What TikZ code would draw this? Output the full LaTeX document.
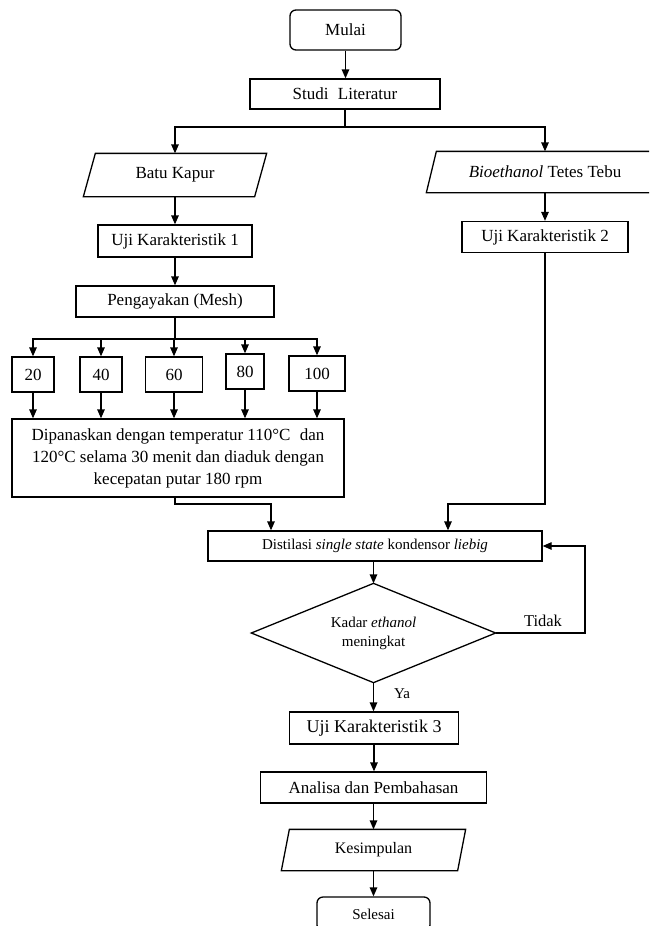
\documentclass[tikz,border=0pt]{standalone}
\usepackage{fontspec}
\setmainfont{Liberation Serif}
\usetikzlibrary{arrows.meta,calc}
\begin{document}
\begin{tikzpicture}[x=1pt,y=-1pt,line width=1.3pt,
  txt/.style={inner sep=0pt,align=center,font=\fontsize{17}{22}\selectfont},
  box/.style={txt,draw,rectangle},
  rbox/.style={box,rounded corners=6pt},
  para/.style={txt,rectangle},
  small/.style={font=\fontsize{15}{19}\selectfont},
  arr/.style={-{Triangle[length=9pt,width=7.5pt]}}]
\useasboundingbox (0,0) rectangle (649,926);
\clip (0,0) rectangle (649,926);

% nodes
\node[rbox,minimum width=111pt,minimum height=40pt] (mulai) at (345.5,30) {Mulai};
\node[box,minimum width=190pt,minimum height=30pt] (studi) at (345,94) {Studi\hspace{0.3em} Literatur};
\node[para,minimum width=170pt,minimum height=42pt] (batu) at (175,175) {Batu Kapur};
\node[para,minimum width=226pt,minimum height=40pt] (bio) at (545,172) {\textit{Bioethanol} Tetes Tebu};
\draw ([xshift=-6pt]batu.south west) -- ([xshift=-6pt]batu.south east) -- ([xshift=6pt]batu.north east) -- ([xshift=6pt]batu.north west) -- cycle;
\draw ([xshift=-5pt]bio.south west) -- ([xshift=-5pt]bio.south east) -- ([xshift=5pt]bio.north east) -- ([xshift=5pt]bio.north west) -- cycle;
\node[box,minimum width=154pt,minimum height=32pt] (uji1) at (175,241) {Uji Karakteristik 1};
\node[box,minimum width=166pt,minimum height=31pt] (uji2) at (545,237) {Uji Karakteristik 2};
\node[box,minimum width=198pt,minimum height=31pt] (peng) at (175,301.5) {Pengayakan (Mesh)};
\node[box,minimum width=42pt,minimum height=35pt] (m20) at (33,374.5) {20};
\node[box,minimum width=42pt,minimum height=35pt] (m40) at (101,374.5) {40};
\node[box,minimum width=57pt,minimum height=35pt] (m60) at (174,374.5) {60};
\node[box,minimum width=38pt,minimum height=35pt] (m80) at (245,371.5) {80};
\node[box,minimum width=56pt,minimum height=35pt] (m100) at (317,373.5) {100};
\node[box,minimum width=332pt,minimum height=78pt] (dip) at (178,458)
  {Dipanaskan dengan temperatur 110°C\hspace{0.3em} dan\\120°C selama 30 menit dan diaduk dengan\\kecepatan putar 180 rpm};
\node[box,small,minimum width=334pt,minimum height=30pt] (dist) at (375,546)
  {Distilasi \textit{single state} kondensor \textit{liebig}};
\node[txt,small,minimum width=243pt,minimum height=98pt] (dia) at (373.5,633) {Kadar \textit{ethanol}\\meningkat};
\draw (dia.north) -- (dia.east) -- (dia.south) -- (dia.west) -- cycle;
\node[box,font=\fontsize{18}{22}\selectfont,minimum width=169pt,minimum height=32pt] (uji3) at (374,728) {Uji Karakteristik 3};
\node[box,minimum width=226pt,minimum height=31pt] (ana) at (373.5,787.5) {Analisa dan Pembahasan};
\node[para,font=\fontsize{16}{19}\selectfont,minimum width=175pt,minimum height=40pt] (kes) at (373.5,850) {Kesimpulan};
\draw ([xshift=-4pt]kes.south west) -- ([xshift=-4pt]kes.south east) -- ([xshift=4pt]kes.north east) -- ([xshift=4pt]kes.north west) -- cycle;
\node[rbox,small,minimum width=113pt,minimum height=34pt] (sel) at (373.5,914) {Selesai};
\node[txt,font=\fontsize{16.5}{20}\selectfont] (tidak) at (543,621) {Tidak};
\node[txt,small] (ya) at (402,694) {Ya};

% connectors
\coordinate (br) at (345,127);
\coordinate (br2) at (175,339);
\coordinate (dl) at (271,504);
\coordinate (dr) at (448,504);
\coordinate (tk) at (585,633);

\draw[arr] (mulai.south) -- (mulai.south |- studi.north);
\draw (studi.south) -- (br);
\draw[arr] (br) -| (batu.north);
\draw[arr] (br) -| (bio.north);
\draw[arr] (batu.south) -- (uji1.north);
\draw[arr] (bio.south) -- (uji2.north);
\draw[arr] (uji1.south) -- (peng.north);
\draw (peng.south) -- (br2);
\draw[arr] (br2) -| (m20.north);
\draw[arr] (br2) -| (m40.north);
\draw[arr] (m60.north |- br2) -- (m60.north);
\draw[arr] (br2) -| (m80.north);
\draw[arr] (br2) -| (m100.north);
\draw[arr] (m20.south) -- (m20.south |- dip.north);
\draw[arr] (m40.south) -- (m40.south |- dip.north);
\draw[arr] (m60.south) -- (m60.south |- dip.north);
\draw[arr] (m80.south) -- (m80.south |- dip.north);
\draw[arr] (m100.south) -- (m100.south |- dip.north);
\draw[arr] (peng.south |- dip.south) |- (dl) -- (dl |- dist.north);
\draw[arr] (uji2.south) |- (dr) -- (dr |- dist.north);
\draw[arr] (dia.north |- dist.south) -- (dia.north);
\draw[arr] (dia.east) -- (tk) |- (dist.east);
\draw[arr] (dia.south) -- (dia.south |- uji3.north);
\draw[arr] (uji3.south) -- (uji3.south |- ana.north);
\draw[arr] (ana.south) -- (kes.north);
\draw[arr] (kes.south) -- (sel.north);
\end{tikzpicture}
\end{document}
